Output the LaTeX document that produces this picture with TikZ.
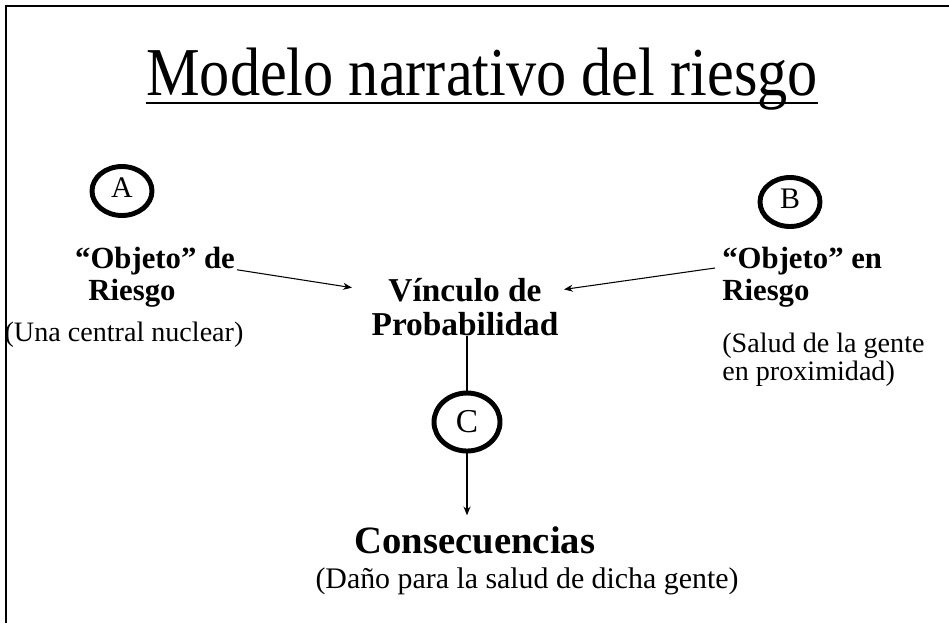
\documentclass[tikz,border=0pt]{standalone}
\usepackage{fontspec}
\setmainfont{Liberation Serif}
\usetikzlibrary{shapes.geometric,arrows.meta}

\begin{document}
\begin{tikzpicture}[
    x = 0.02cm, y = -0.02cm,
    every node/.style={ inner sep = 0pt },
    letra/.style={ draw, ellipse, line width = 2.8pt,
      minimum width = 1.2cm, minimum height = 0.98cm,
      font = \fontsize{17}{17}\selectfont },
    cabeza/.style={ font = \fontsize{17.5}{19}\selectfont\bfseries },
    nota/.style={ font = \fontsize{16}{16}\selectfont },
    flecha/.style={ -{Stealth[length=5pt,width=4pt]}, line width = 0.6pt }
    ]
  \useasboundingbox (0,0) rectangle (949,623);
  \draw[line width = 1.2pt] (6,623) -- (6,6) -- (949,6);

  \node (titulo) [anchor = base] at (482,95)
    {\scalebox{0.88}[1]{\fontsize{39}{39}\selectfont Modelo narrativo del riesgo}};
  \draw[line width = 1.3pt] ([yshift=-4.5pt]titulo.base west) -- ([yshift=-4.5pt]titulo.base east);

  \node (circA) [letra] at (122,191) {\raisebox{4pt}{A}};
  \node (objA) [cabeza, anchor = base] at (155,268) {“Objeto” de};
  \node (riesA) [cabeza, anchor = base] at (132,300) {Riesgo};
  \node (notaA) [nota, anchor = base] at (124,341) {(Una central nuclear)};

  \node (vinc) [cabeza, font = \fontsize{19}{19}\selectfont\bfseries, align = center]
    at (465,307) {Vínculo de\\Probabilidad};

  \node (circB) [letra] at (790,202) {\raisebox{4pt}{B}};
  \node (objB) [cabeza, anchor = base west] at (722,268) {“Objeto” en};
  \node (riesB) [cabeza, anchor = base west] at (722,300) {Riesgo};
  \node (notaB) [nota, anchor = north west, align = left] at (722,333)
    {(Salud de la gente\\en proximidad)};

  \node (circC) [letra, minimum width = 1.32cm, minimum height = 1.16cm,
    font = \fontsize{19}{19}\selectfont] at (467,422) {C};
  \node (cons) [font = \fontsize{22}{22}\selectfont\bfseries, anchor = base]
    at (475,553) {Consecuencias};
  \node (dano) [nota, font = \fontsize{17}{17}\selectfont, anchor = base]
    at (527,588) {(Daño para la salud de dicha gente)};

\draw[flecha] ([xshift=1pt,yshift=-1pt]objA.base east) -- ([xshift=-11pt,yshift=11pt]vinc.west) ;
\draw[flecha] ([xshift=-4pt]objB.base west) -- ([xshift=3pt,yshift=10pt]vinc.east) ;
\draw[line width = 0.6pt] (circC.north |- vinc.south) -- (circC.north) ;
\draw[flecha, shorten >= 6pt] (circC.south) -- (circC.south |- cons.north) ;
\end{tikzpicture}
\end{document}
